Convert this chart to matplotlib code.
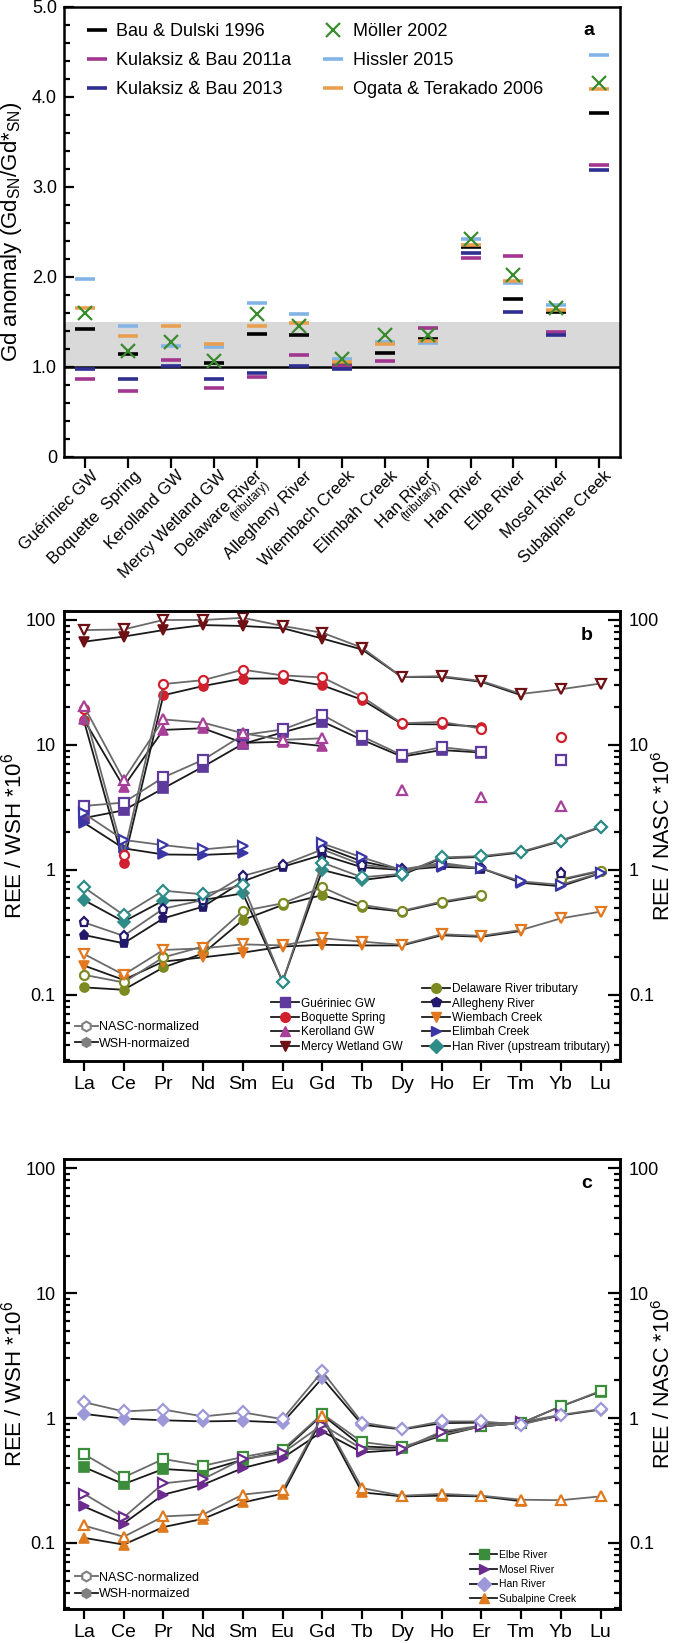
import numpy as np
import matplotlib.pyplot as plt
import matplotlib.transforms as mtransforms
from matplotlib.lines import Line2D
from matplotlib.ticker import MultipleLocator, LogLocator, NullFormatter, FixedLocator, FixedFormatter

nan = np.nan

plt.rcParams['font.family'] = ['Liberation Sans', 'DejaVu Sans']
plt.rcParams['mathtext.fontset'] = 'custom'
plt.rcParams['mathtext.rm'] = 'Liberation Sans'
plt.rcParams['mathtext.default'] = 'regular'

# ---- panel a: Gd anomaly per site and reference
sites = ['Guériniec GW', 'Boquette  Spring', 'Kerolland GW', 'Mercy Wetland GW',
         'Delaware River', 'Allegheny River', 'Wiembach Creek', 'Elimbah Creek',
         'Han River', 'Han River', 'Elbe River', 'Mosel River', 'Subalpine Creek']
tributary = [4, 8]

bau_dulski = [1.42, 1.14, nan, 1.04, 1.37, 1.36, 1.04, 1.15, 1.31, 2.33, 1.75, 1.605, 3.82]
kulaksiz_2011a = [0.865, 0.73, 1.076, 0.766, 0.884, 1.135, 1.01, 1.07, 1.43, 2.21, 2.23, 1.387, 3.24]
kulaksiz_2013 = [0.976, 0.865, 1.006, 0.865, 0.93, 1.013, 0.976, nan, nan, 2.27, 1.61, 1.357, 3.19]
moller = [1.60, 1.18, 1.28, 1.07, 1.59, 1.45, 1.09, 1.36, 1.36, 2.42, 2.02, 1.65, 4.15]
hissler = [1.98, 1.45, 1.23, 1.22, 1.71, 1.59, 1.09, 1.28, 1.265, 2.42, 1.93, 1.69, 4.47]
ogata = [1.65, 1.34, 1.45, 1.25, 1.46, 1.49, 1.05, 1.25, 1.29, 2.36, 1.96, 1.63, 4.09]

# ---- panels b, c: normalized REE patterns
ree = ['La', 'Ce', 'Pr', 'Nd', 'Sm', 'Eu', 'Gd', 'Tb', 'Dy', 'Ho', 'Er', 'Tm', 'Yb', 'Lu']

guer_nasc = [3.25, 3.46, 5.5, 7.6, 12.0, 13.3, 17.4, 11.7, 8.3, 9.6, 8.85, nan, 7.6, nan]
guer_wsh = [2.6, 3.0, 4.5, 6.7, 10.2, 12.6, 15.4, 11.0, 8.07, 9.1, 8.7, nan, nan, nan]
boq_nasc = [19.3, 1.32, 30.7, 33.0, 40.0, 36.0, 34.7, 24.3, 14.9, 15.3, 13.5, nan, 11.5, nan]
boq_wsh = [15.7, 1.14, 25.0, 29.6, 34.0, 34.0, 30.0, 23.0, 14.7, 14.6, 14.0, nan, nan, nan]
ker_nasc = [20.5, 5.25, 16.0, 15.1, 12.4, 11.0, 11.3, nan, 4.37, nan, 3.86, nan, 3.25, nan]
ker_wsh = [16.0, 4.64, 13.2, 13.6, 10.4, 10.6, 9.8, nan, nan, nan, nan, nan, nan, nan]
mercy_nasc = [83, 84, 100, 100, 104, 89.5, 79, 60, 35, 35.5, 32.5, 25.6, 27.9, 31]
mercy_wsh = [67, 73.6, 83, 91, 89.5, 86, 71, 58, 35, 35, 32, 25, nan, nan]
dela_nasc = [0.145, 0.126, 0.2, 0.244, 0.47, 0.541, 0.727, 0.525, 0.47, 0.558, 0.63, nan, 0.842, 0.99]
dela_wsh = [0.115, 0.11, 0.166, 0.215, 0.398, 0.525, 0.63, 0.503, 0.465, 0.548, 0.62, nan, 0.83, 0.98]
alle_nasc = [0.381, 0.297, 0.49, 0.575, 0.895, 1.096, 1.46, 1.1, 1.01, 1.14, 1.03, nan, 0.94, nan]
alle_wsh = [0.302, 0.259, 0.41, 0.509, 0.81, 1.06, 1.32, 1.05, 1.0, 1.1, 1.02, nan, 0.92, nan]
wiem_nasc = [0.213, 0.145, 0.229, 0.236, 0.254, 0.249, 0.284, 0.267, 0.252, 0.306, 0.297, 0.331, 0.41, 0.464]
wiem_wsh = [0.172, 0.132, 0.185, 0.2, 0.218, 0.244, 0.252, 0.249, 0.249, 0.3, 0.292, 0.325, nan, nan]
elim_nasc = [2.84, 1.74, 1.58, 1.46, 1.56, nan, 1.63, 1.26, 1.0, 1.1, 1.03, 0.81, 0.76, 0.95]
elim_wsh = [2.39, 1.49, 1.33, 1.32, 1.36, nan, 1.54, 1.17, 1.0, 1.06, 1.03, 0.79, 0.74, 0.94]
hant_nasc = [0.727, 0.436, 0.683, 0.638, 0.759, 0.128, 1.145, 0.874, 0.93, 1.26, 1.29, 1.4, 1.72, 2.22]
hant_wsh = [0.575, 0.386, 0.569, 0.575, 0.65, 0.128, 1.0, 0.83, 0.91, 1.24, 1.27, 1.38, 1.7, 2.2]

elbe_nasc = [0.515, 0.335, 0.47, 0.415, 0.488, 0.558, 1.08, 0.643, 0.586, 0.735, 0.86, 0.91, 1.24, 1.65]
elbe_wsh = [0.405, 0.296, 0.391, 0.374, 0.464, 0.541, 1.06, 0.593, 0.575, 0.72, 0.86, 0.91, 1.24, 1.63]
mosel_nasc = [0.248, 0.16, 0.3, 0.325, 0.47, 0.525, 0.885, 0.565, 0.565, 0.78, 0.87, 0.93, 1.06, nan]
mosel_wsh = [0.196, 0.143, 0.244, 0.293, 0.398, 0.479, 0.78, 0.531, 0.558, 0.76, 0.86, 0.91, 1.05, nan]
han_nasc = [1.34, 1.13, 1.17, 1.03, 1.11, 0.98, 2.36, 0.92, 0.817, 0.94, 0.94, 0.885, 1.06, 1.18]
han_wsh = [1.08, 0.99, 0.96, 0.94, 0.95, 0.92, 2.09, 0.885, 0.81, 0.91, 0.92, 0.9, 1.05, 1.17]
subalp_nasc = [0.138, 0.112, 0.163, 0.169, 0.244, 0.264, 1.04, 0.275, 0.239, 0.247, 0.239, 0.222, 0.22, 0.236]
subalp_wsh = [0.11, 0.097, 0.134, 0.156, 0.211, 0.248, 1.0, 0.254, 0.236, 0.239, 0.236, 0.216, nan, nan]

samples_b = [
    ('Guériniec GW', 's', '#5d3a9b', guer_nasc, guer_wsh),
    ('Boquette Spring', 'o', '#d0202e', boq_nasc, boq_wsh),
    ('Kerolland GW', '^', '#a8409a', ker_nasc, ker_wsh),
    ('Mercy Wetland GW', 'v', '#6e1014', mercy_nasc, mercy_wsh),
    ('Delaware River tributary', 'o', '#7d8a22', dela_nasc, dela_wsh),
    ('Allegheny River', 'p', '#23196b', alle_nasc, alle_wsh),
    ('Wiembach Creek', 'v', '#e3781e', wiem_nasc, wiem_wsh),
    ('Elimbah Creek', '>', '#3a36a6', elim_nasc, elim_wsh),
    ('Han River (upstream tributary)', 'D', '#2e8c88', hant_nasc, hant_wsh),
]
samples_c = [
    ('Elbe River', 's', '#3b8c3b', elbe_nasc, elbe_wsh),
    ('Mosel River', '>', '#6c2b8f', mosel_nasc, mosel_wsh),
    ('Han River', 'D', '#9d98d8', han_nasc, han_wsh),
    ('Subalpine Creek', '^', '#e07a1f', subalp_nasc, subalp_wsh),
]

NASC_LINE = '#6a6a6a'
WSH_LINE = '#1a1a1a'
SPINE_W = 1.8
AX_L, AX_W = 0.0945, 0.822

fig = plt.figure(figsize=(6.77, 16.43), dpi=100)


def style_spines(ax):
    for s in ax.spines.values():
        s.set_linewidth(SPINE_W)


# ---------------- panel a
axa = fig.add_axes([AX_L, 0.7219, AX_W, 0.2739])
xa = np.arange(len(sites))
axa.axhspan(1.0, 1.5, color='#d9d9d9', lw=0, zorder=0)
axa.axhline(1.0, color='black', lw=1.8, zorder=1)

refs = [
    (bau_dulski, 'black', 'Bau & Dulski 1996'),
    (kulaksiz_2011a, '#a0368f', 'Kulaksiz & Bau 2011a'),
    (kulaksiz_2013, '#2e2f8f', 'Kulaksiz & Bau 2013'),
    (hissler, '#84b4e6', 'Hissler 2015'),
    (ogata, '#e8a050', 'Ogata & Terakado 2006'),
]
handles_a = []
for vals, col, lab in refs:
    h, = axa.plot(xa, vals, ls='none', marker='_', ms=14, mew=2.6, color=col, label=lab, zorder=3)
    handles_a.append(h)
hm, = axa.plot(xa, moller, ls='none', marker='x', ms=9.5, mew=1.6, color='#3a8a2e',
               label='Möller 2002', zorder=4)
handles_a.insert(3, hm)

axa.set_xlim(-0.5, 12.5)
axa.set_ylim(0, 5)
axa.set_yticks([0, 1, 2, 3, 4, 5])
axa.set_yticklabels(['0', '1.0', '2.0', '3.0', '4.0', '5.0'])
axa.yaxis.set_minor_locator(MultipleLocator(0.2))
axa.tick_params(axis='y', which='both', direction='in', labelsize=13, width=1.6, pad=5)
axa.tick_params(axis='y', which='major', length=7)
axa.tick_params(axis='y', which='minor', length=4)
axa.tick_params(axis='x', direction='out', length=8, width=1.6, pad=3)
axa.set_xticks(xa)
axa.set_xticklabels(sites, rotation=45, ha='right', va='top', rotation_mode='anchor', fontsize=12)
for i, lbl in enumerate(axa.get_xticklabels()):
    dx = -2 if i in tributary else 5
    off = mtransforms.ScaledTranslation(dx / 100, 4 / 100, fig.dpi_scale_trans)
    lbl.set_transform(lbl.get_transform() + off)
trans = mtransforms.blended_transform_factory(axa.transData, axa.transAxes)
for i in tributary:
    axa.text(i - 0.16, -0.098, '(tributary)', transform=trans, rotation=45, fontsize=8.5,
             ha='center', va='center')
axa.set_ylabel('Gd anomaly (Gd$_{SN}$/Gd*$_{SN}$)', fontsize=16)
axa.yaxis.set_label_coords(-0.072, 0.5)
axa.legend(handles=handles_a, ncol=2, loc='upper left', frameon=False, fontsize=13,
           handlelength=1.2, handletextpad=0.5, columnspacing=1.7, labelspacing=0.67,
           bbox_to_anchor=(0.01, 1.0))
axa.text(0.943, 0.947, 'a', transform=axa.transAxes, fontsize=14, fontweight='bold',
         ha='center', va='center')
style_spines(axa)


# ---------------- panels b and c
def log_axis(a):
    a.yaxis.set_major_locator(FixedLocator([0.1, 1, 10, 100]))
    a.yaxis.set_major_formatter(FixedFormatter(['0.1', '1', '10', '100']))
    a.yaxis.set_minor_locator(LogLocator(base=10, subs=np.arange(2, 10)))
    a.yaxis.set_minor_formatter(NullFormatter())
    a.tick_params(axis='y', which='both', direction='in', labelsize=13, width=1.6, pad=6)
    a.tick_params(axis='y', which='major', length=9)
    a.tick_params(axis='y', which='minor', length=4.5)


def ree_panel(rect, samples, letter, big_legend):
    ax = fig.add_axes(rect)
    xr = np.arange(len(ree))
    for name, m, col, nasc, wsh in samples:
        ax.plot(xr, wsh, color=WSH_LINE, lw=1.3, marker=m, ms=6.5, mfc=col, mec=col,
                mew=1.2, zorder=3)
        ax.plot(xr, nasc, color=NASC_LINE, lw=1.3, marker=m, ms=6.5, mfc='white', mec=col,
                mew=1.6, zorder=4)
    ax.set_yscale('log')
    ax.set_ylim(0.0296, 118.6)
    ax.set_xlim(-0.5, 13.5)
    ax.set_xticks(xr)
    ax.set_xticklabels(ree, fontsize=14)
    ax.tick_params(axis='x', direction='out', length=7, width=1.6, pad=4)
    log_axis(ax)
    ax.set_ylabel('REE / WSH *10$^6$', fontsize=16)
    ax.yaxis.set_label_coords(-0.068, 0.5)

    ax2 = ax.twinx()
    ax2.set_yscale('log')
    ax2.set_ylim(ax.get_ylim())
    log_axis(ax2)
    ax2.set_ylabel('REE / NASC *10$^6$', fontsize=15.5)
    ax2.yaxis.set_label_coords(1.057, 0.5)
    style_spines(ax)
    style_spines(ax2)

    # normalization legend
    norm_handles = [
        Line2D([0], [0], color=NASC_LINE, lw=1.3, marker='h', ms=7, mfc='white', mec='#808080',
               mew=1.5, label='NASC-normalized'),
        Line2D([0], [0], color=WSH_LINE, lw=1.3, marker='h', ms=7, mfc='#808080', mec='#808080',
               label='WSH-normaized'),
    ]
    leg1 = ax.legend(handles=norm_handles, loc='lower left', frameon=False, fontsize=9,
                     handlelength=1.8, handletextpad=0.1, labelspacing=0.35,
                     bbox_to_anchor=(0.0, 0.0 if big_legend else -0.005))
    ax.add_artist(leg1)

    sample_handles = [Line2D([0], [0], color=WSH_LINE, lw=1.3, marker=m, ms=7, mfc=col, mec=col,
                             label=name) for name, m, col, _, _ in samples]
    if big_legend:
        blank = Line2D([0], [0], color='none', label=' ')
        sample_handles = [blank] + sample_handles
        ax.legend(handles=sample_handles, ncol=2, loc='lower right', frameon=False, fontsize=8.5,
                  handlelength=2.4, handletextpad=0.15, labelspacing=0.2, columnspacing=1.6,
                  bbox_to_anchor=(1.0, -0.005))
    else:
        ax.legend(handles=sample_handles, loc='lower right', frameon=False, fontsize=7.5,
                  handlelength=2.6, handletextpad=0.15, labelspacing=0.45,
                  bbox_to_anchor=(0.937, -0.01))
    ax.text(0.94, 0.945, letter, transform=ax.transAxes, fontsize=14, fontweight='bold',
            ha='center', va='center')
    return ax


ree_panel([AX_L, 0.6283 - 0.2741, AX_W, 0.2741], samples_b, 'b', True)
ree_panel([AX_L, 0.02069, AX_W, 0.2739], samples_c, 'c', False)

fig.savefig('out.png', dpi=100)
